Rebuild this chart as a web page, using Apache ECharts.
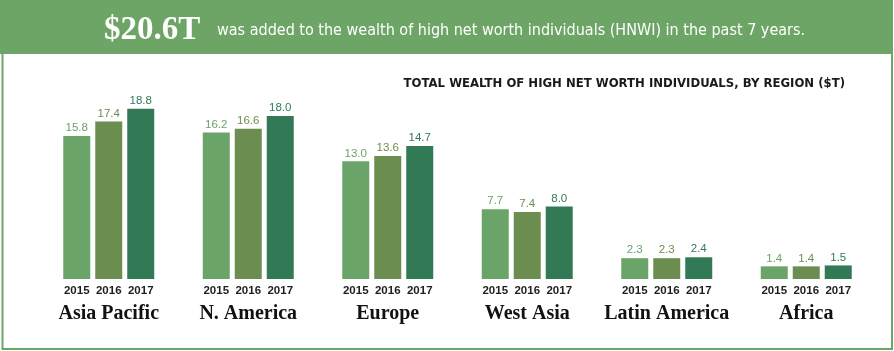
<!DOCTYPE html>
<html>
<head>
<meta charset="utf-8">
<script src="https://cdn.jsdelivr.net/npm/echarts@6/dist/echarts.min.js"></script>
<style>
html,body{margin:0;padding:0;background:#fff;}
#chart{width:894px;height:351px;}
</style>
</head>
<body>
<div id="chart"></div>
<script>
const regions = ['Asia Pacific', 'N. America', 'Europe', 'West Asia', 'Latin America', 'Africa'];
const years = ['2015', '2016', '2017'];
const v2015 = [15.8, 16.2, 13.0, 7.7, 2.3, 1.4];
const v2016 = [17.4, 16.6, 13.6, 7.4, 2.3, 1.4];
const v2017 = [18.8, 18.0, 14.7, 8.0, 2.4, 1.5];
const headline = '$20.6T';
const subtitle = 'was added to the wealth of high net worth individuals (HNWI) in the past 7 years.';
const chartTitle = 'TOTAL WEALTH OF HIGH NET WORTH INDIVIDUALS, BY REGION ($T)';

const colors = ['#6ba468', '#6b8e50', '#327a56'];
const green = '#6da566';
const seriesValues = [v2015, v2016, v2017];

const chart = echarts.init(document.getElementById('chart'));
chart.setOption({
  animation: false,
  backgroundColor: '#fff',
  grid: { left: 39, right: 18, top: 98, bottom: 72 },
  xAxis: {
    type: 'category',
    data: regions,
    axisLine: { show: false },
    axisTick: { show: false },
    axisLabel: {
      margin: 4,
      interval: 0,
      formatter: function (v) {
        return years.map(y => '{y|' + y + '}').join('') + '\n{r|' + v + '}';
      },
      rich: {
        y: { width: 32, align: 'center', fontFamily: 'Liberation Sans', fontWeight: 'bold', fontSize: 11.5, color: '#1e1e1e', lineHeight: 16 },
        r: { fontFamily: 'Liberation Serif', fontWeight: 'bold', fontSize: 20, color: '#111', lineHeight: 30 }
      }
    }
  },
  yAxis: {
    type: 'value', min: 0, max: 20, show: false,
    splitLine: { show: false }
  },
  graphic: [
    { type: 'rect', shape: { x: 2.5, y: 20, width: 889.5, height: 329 }, style: { fill: 'none', stroke: green, lineWidth: 2 }, z: 1 },
    { type: 'rect', shape: { x: 0, y: 0, width: 893, height: 54 }, style: { fill: green }, z: 2 },
    { type: 'text', x: 104, y: 30, z: 3, style: { text: headline, fill: '#fff', font: 'bold 33px "Liberation Serif"', verticalAlign: 'middle', align: 'left' } },
    { type: 'text', x: 217, y: 31, z: 3, style: { text: subtitle, fill: '#fff', font: '16px "Liberation Sans Narrow", "DejaVu Sans Condensed", "Liberation Sans"', verticalAlign: 'middle', align: 'left' } },
    { type: 'text', x: 845, y: 84, z: 3, style: { text: chartTitle, fill: '#1a1a1a', font: 'bold 11.7px "DejaVu Sans"', verticalAlign: 'middle', align: 'right' } }
  ],
  series: seriesValues.map((vals, i) => ({
    name: years[i],
    type: 'bar',
    data: vals,
    barWidth: 27,
    barGap: '18.5%',
    itemStyle: { color: colors[i] },
    label: {
      show: true,
      position: 'top',
      distance: 2,
      color: colors[i],
      fontFamily: 'Liberation Sans',
      fontSize: 11.5,
      formatter: p => p.value.toFixed(1)
    }
  }))
});
</script>
</body>
</html>
